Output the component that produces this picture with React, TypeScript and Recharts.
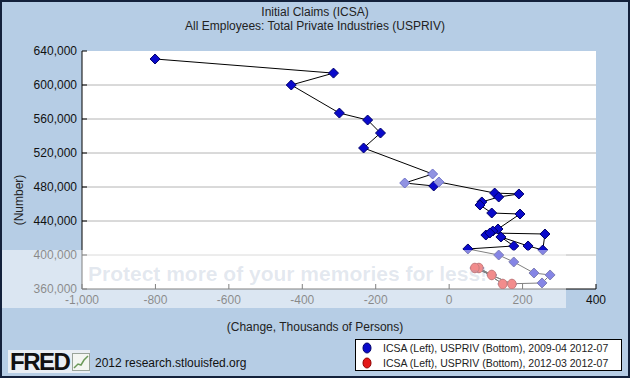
import React from 'react';
import { ScatterChart, Scatter, XAxis, YAxis, CartesianGrid } from 'recharts';

// USPRIV monthly change (thousands) vs ICSA monthly average, 2009-04 .. 2012-07
const privChange = [
  -801, -315, -430, -299, -222, -187, -233, -45, -121, -42, -28,
  124, 190, 135, 89, 84, 116, 193, 133, 100, 119, 111, 261, 255, 215,
  141, 176, 51, 135, 176, 231, 275, 253, 146, 81, 116, 70, 171,
];
const initialClaims = [
  630600, 614000, 600000, 567000, 558800, 543500, 525900, 495300, 484700, 481200, 485900,
  472900, 471800, 468200, 462400, 458800, 449400, 448200, 430600, 423500, 428200, 425900, 424700, 405900, 410600,
  421200, 410600, 407100, 400000, 391800, 378800, 376500, 367100, 365900, 384700, 376500, 384700, 365900,
];
const recentCount = 5; // 2012-03 .. 2012-07
const highlightIdx = [7, 8, 10];

const xTicks = [-1000, -800, -600, -400, -200, 0, 200, 400];
const yTicks = [360000, 400000, 440000, 480000, 520000, 560000, 600000, 640000];
const legendLabels = [
  'ICSA (Left), USPRIV (Bottom), 2009-04 2012-07',
  'ICSA (Left), USPRIV (Bottom), 2012-03 2012-07',
];

const FONT = '"Liberation Sans", Arial, sans-serif';
const BG = '#b6cde5';
const TICK_GAP = 4;

const fullData = privChange.map((x, i) => ({ x, y: initialClaims[i], i }));
const recentData = fullData.slice(-recentCount);

const fmt = (v: number) => v.toLocaleString('en-US');

const YTick = (props: any) => {
  const { x, y, payload } = props;
  const ax = x + TICK_GAP;
  return (
    <g>
      <line x1={ax} x2={ax + 5} y1={y} y2={y} stroke="#000" />
      <text x={x - 1} y={y} dy={4} textAnchor="end" fontSize={12} fontFamily={FONT} fill="#111">
        {fmt(payload.value)}
      </text>
    </g>
  );
};

const XTick = (props: any) => {
  const { x, y, payload } = props;
  const ay = y - TICK_GAP;
  return (
    <g>
      <line x1={x} x2={x} y1={ay} y2={ay - 5} stroke="#000" />
      <text x={x} y={y} dy={11} textAnchor="middle" fontSize={12} fontFamily={FONT} fill="#111">
        {fmt(payload.value)}
      </text>
    </g>
  );
};

const Diamond = (props: any) => {
  const { cx, cy, payload } = props;
  const light = highlightIdx.includes(payload.i);
  const r = 5;
  return (
    <path
      d={`M${cx},${cy - r}L${cx + r},${cy}L${cx},${cy + r}L${cx - r},${cy}Z`}
      fill={light ? '#9092e2' : '#0a0acb'}
      stroke={light ? '#6f72c9' : '#00006a'}
      strokeWidth={1}
    />
  );
};

const RedDot = (props: any) => {
  const { cx, cy } = props;
  return <ellipse cx={cx} cy={cy} rx={4.3} ry={4.8} fill="#e41818" stroke="#900000" strokeWidth={1} />;
};

const abs = (s: React.CSSProperties): React.CSSProperties => ({ position: 'absolute', ...s });

export default function App() {
  return (
    <div style={abs({ left: 0, top: 0, width: 630, height: 378, background: BG, fontFamily: FONT, overflow: 'hidden' })}>
      <div style={abs({ left: 0, top: 5, width: 630, textAlign: 'center', fontSize: 12, color: '#222', lineHeight: '14px' })}>
        Initial Claims (ICSA)
        <br />
        All Employees: Total Private Industries (USPRIV)
      </div>

      <ScatterChart width={630} height={378} margin={{ top: 51, right: 34, bottom: 59, left: 0 }}>
        <CartesianGrid vertical={false} stroke="#b4b4b4" fill="#fff" horizontalValues={yTicks.slice(1, -1)} />
        <XAxis
          type="number"
          dataKey="x"
          domain={[-1000, 400]}
          ticks={xTicks}
          height={30}
          tickSize={0}
          tickMargin={TICK_GAP}
          tick={<XTick />}
          axisLine={{ stroke: '#000' }}
          allowDataOverflow
        />
        <YAxis
          type="number"
          dataKey="y"
          domain={[360000, 640000]}
          ticks={yTicks}
          width={82}
          tickSize={0}
          tickMargin={TICK_GAP}
          tick={<YTick />}
          axisLine={{ stroke: '#000' }}
          allowDataOverflow
        />
        <Scatter
          data={fullData}
          line={{ stroke: '#000', strokeWidth: 1 }}
          shape={<Diamond />}
          isAnimationActive={false}
        />
        <Scatter
          data={recentData}
          line={{ stroke: '#000', strokeWidth: 1 }}
          shape={<RedDot />}
          isAnimationActive={false}
        />
      </ScatterChart>

      <div style={abs({ left: 4, top: 160, width: 30, height: 80, display: 'flex', alignItems: 'center', justifyContent: 'center' })}>
        <div style={{ transform: 'rotate(-90deg)', whiteSpace: 'nowrap', fontSize: 12, color: '#222' }}>(Number)</div>
      </div>

      <div style={abs({ left: 0, top: 320, width: 630, textAlign: 'center', fontSize: 12, color: '#222' })}>
        (Change, Thousands of Persons)
      </div>

      {/* photo-host watermark band */}
      <div style={abs({ left: 0, top: 250, width: 566, height: 58, background: 'rgba(255,255,255,0.5)' })}>
        <div style={abs({ left: 88, top: 12, fontSize: 21, fontWeight: 'bold', color: 'rgba(130,150,185,0.22)', whiteSpace: 'nowrap' })}>
          Protect more of your memories for less!
        </div>
      </div>

      <div style={abs({ left: 355, top: 339, width: 267, height: 32, background: '#fff', border: '1px solid #000', boxSizing: 'border-box' })}>
        {legendLabels.map((label, k) => (
          <div key={label} style={abs({ left: 5, top: 1 + k * 15, height: 14, display: 'flex', alignItems: 'center', fontSize: 10.5, color: '#222', whiteSpace: 'nowrap' })}>
            <svg width={14} height={12} style={{ marginRight: 8 }}>
              <ellipse cx={6} cy={6} rx={4} ry={5} fill={k === 0 ? '#0a0acb' : '#e41818'} stroke={k === 0 ? '#00006a' : '#900000'} />
            </svg>
            {label}
          </div>
        ))}
      </div>

      <div style={abs({ left: 8, top: 350, width: 82, height: 23, background: '#e9eef4', display: 'flex', alignItems: 'center' })}>
        <span style={{ fontSize: 24, fontWeight: 'bold', color: '#111', letterSpacing: -1.5, marginLeft: 2, lineHeight: '23px' }}>FRED</span>
        <svg width={18} height={18} style={{ marginLeft: 3 }}>
          <rect x={0.5} y={0.5} width={17} height={17} fill="#f4f6f2" stroke="#9aa49a" />
          <polyline points="2,15 6,11 9,12 12,7 16,3" fill="none" stroke="#6c9a5a" strokeWidth={1.5} />
        </svg>
      </div>
      <div style={abs({ left: 95, top: 356, fontSize: 12, color: '#111' })}>2012 research.stlouisfed.org</div>

      <div style={abs({ left: 0, top: 0, width: 630, height: 378, border: '2px solid #13213b', boxSizing: 'border-box', pointerEvents: 'none' })} />
    </div>
  );
}
